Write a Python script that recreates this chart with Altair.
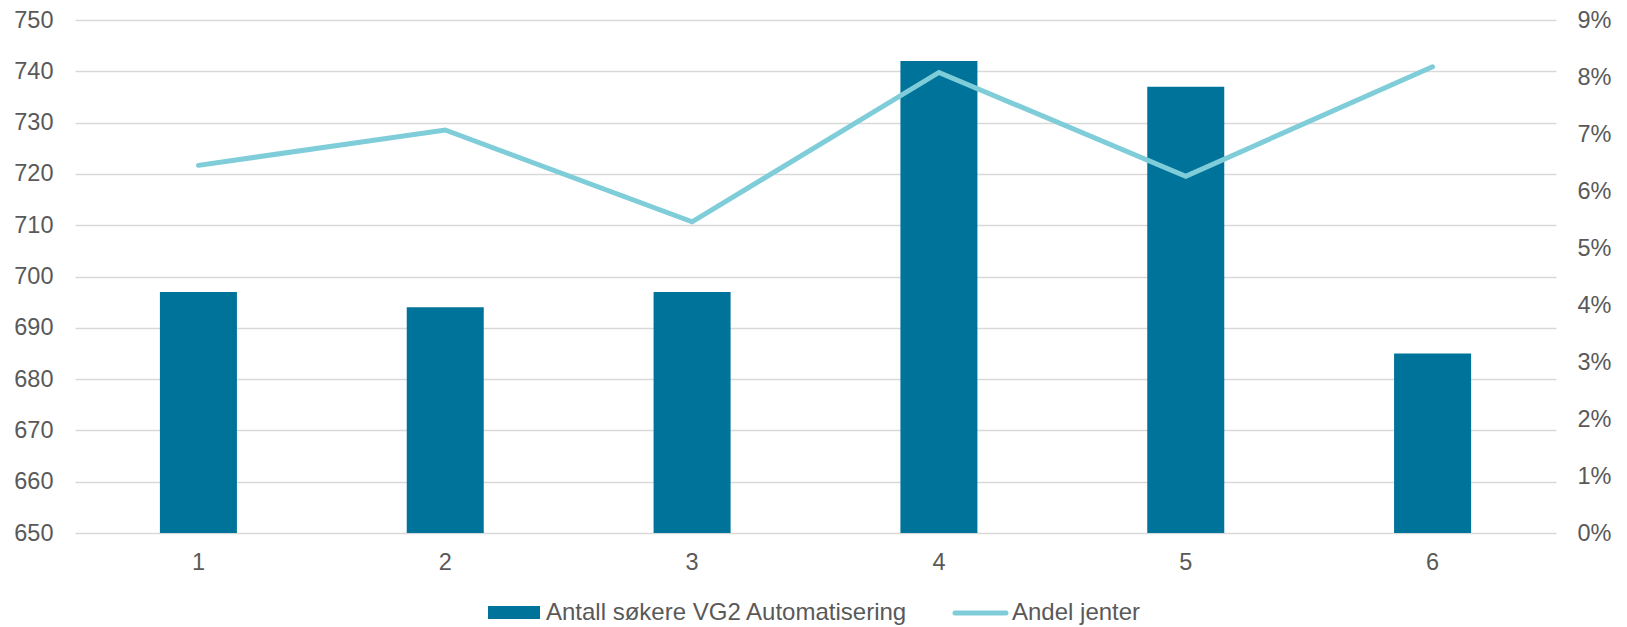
import altair as alt
import pandas as pd

categories = ["1", "2", "3", "4", "5", "6"]
applicants = [697, 694, 697, 742, 737, 685]
girls_share = [0.0645, 0.0707, 0.0546, 0.0808, 0.0626, 0.0818]
series_names = ["Antall søkere VG2 Automatisering", "Andel jenter"]
left_ticks = list(range(650, 751, 10))
right_ticks = [i / 100 for i in range(0, 10)]

df = pd.DataFrame({"cat": categories, "applicants": applicants, "share": girls_share})

FONT = "Liberation Sans"
TEXT = "#595959"
BAR = "#00739a"
LINE = "#7fcdd9"
GRID = "#d9d9d9"
FS = 23.5
LFS = 24

xenc = alt.X(
    "cat:N",
    sort=categories,
    scale=alt.Scale(paddingInner=0.688, paddingOuter=0.344),
    axis=alt.Axis(title=None, labelAngle=0, domain=False, ticks=False, labelPadding=17,
                  grid=False),
)

bars = alt.Chart(df).mark_bar(color=BAR).encode(
    x=xenc,
    y=alt.Y(
        "applicants:Q",
        scale=alt.Scale(domain=[650, 750], nice=False, zero=False),
        axis=alt.Axis(values=left_ticks, title=None, domain=False, ticks=False,
                      labelPadding=22, grid=True, gridColor=GRID, gridWidth=1.6),
    ),
    y2=alt.datum(650),
)

line = alt.Chart(df).mark_line(color=LINE, strokeWidth=5, strokeCap="round", strokeJoin="miter").encode(
    x=xenc,
    y=alt.Y(
        "share:Q",
        scale=alt.Scale(domain=[0, 0.09], nice=False),
        axis=alt.Axis(orient="right", values=right_ticks, format=".0%", title=None,
                      domain=False, ticks=False, labelPadding=21, grid=False),
    ),
)

leg1 = pd.DataFrame({"name": [series_names[0]]})
leg2 = pd.DataFrame({"name": [series_names[1]]})

leg_rect = alt.Chart(leg1).mark_rect(color=BAR).encode(
    x=alt.value(413), x2=alt.value(465), y=alt.value(586), y2=alt.value(599)
)
leg_text1 = alt.Chart(leg1).mark_text(align="left", baseline="middle", fontSize=LFS, font=FONT, color=TEXT).encode(
    x=alt.value(471), y=alt.value(593), text="name:N"
)
leg_rule = alt.Chart(leg2).mark_rule(color=LINE, strokeWidth=5, strokeCap="round").encode(
    x=alt.value(880), x2=alt.value(931), y=alt.value(593)
)
leg_text2 = alt.Chart(leg2).mark_text(align="left", baseline="middle", fontSize=LFS, font=FONT, color=TEXT).encode(
    x=alt.value(937), y=alt.value(593), text="name:N"
)

chart = (
    alt.layer(bars, line, leg_rect, leg_text1, leg_rule, leg_text2)
    .resolve_scale(y="independent")
    .properties(
        width=1481,
        height=513,
        autosize=alt.AutoSizeParams(type="none"),
        padding={"left": 67, "top": 12, "right": 63, "bottom": 94},
    )
    .configure_view(stroke=None)
    .configure_axis(labelFont=FONT, labelFontSize=FS, labelColor=TEXT)
)

chart.save("out.html", embed_options={"renderer": "svg", "actions": False})
